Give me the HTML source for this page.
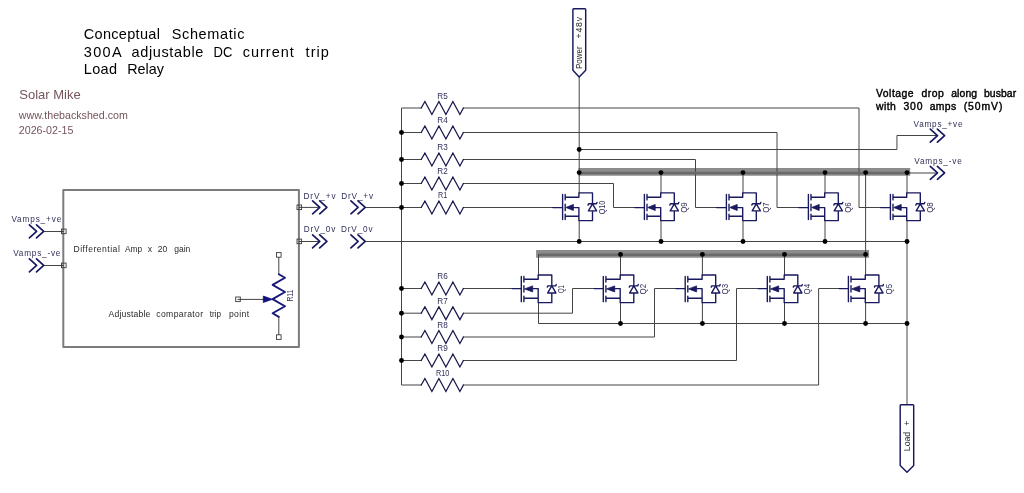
<!DOCTYPE html>
<html lang="en">
<head>
<meta charset="utf-8">
<title>Conceptual Schematic - 300A adjustable DC current trip Load Relay</title>
<style>
html,body{margin:0;padding:0;background:#fff;}
body{width:1024px;height:493px;overflow:hidden;}
svg{display:block;will-change:transform;}
text{font-family:"Liberation Sans", sans-serif;white-space:pre;}
.w{fill:none;stroke:#444444;stroke-width:1;stroke-linejoin:miter;stroke-linecap:square;}
.s{fill:none;stroke:#19195f;stroke-width:1.38;stroke-linejoin:round;stroke-linecap:round;}
.a{fill:#19195f;stroke:#19195f;stroke-width:0.8;stroke-linejoin:round;}
.c{fill:#fff;stroke:#19195f;stroke-width:1.45;stroke-linejoin:round;}
.j{fill:#000;}
.p{fill:none;stroke:#3a3a3a;stroke-width:0.9;}
.box{fill:none;stroke:#7c7c7c;stroke-width:2;stroke-linejoin:round;}
.bb{fill:none;stroke:#8c8c8c;stroke-width:7.7;stroke-linecap:butt;}
.bw{stroke:#6a6a6a;stroke-width:2.6;stroke-linecap:butt;}
.gl{stroke-width:1.15;}
.rz{stroke:#18184f;stroke-width:1.3;stroke-linejoin:miter;}
.pz{stroke:#16167a;stroke-width:1.85;}
.pa{fill:#10107e;stroke:#10107e;}
.ch{stroke-width:1.7;stroke-linejoin:round;}
.t{fill:#30305a;}
.tk{fill:#2a2a2a;}
.tt{fill:#000;}
.tb{fill:#000;stroke:#000;stroke-width:0.4;stroke-linejoin:round;}
.wm{fill:#74555b;}
</style>
</head>
<body>
<svg width="1024" height="493" viewBox="0 0 1024 493">
<rect width="1024" height="493" fill="#fff"/>
<path class="bb" d="M578.4 171.95 H910.2"/>
<path class="bb" d="M536.1 253.95 H869.1"/>
<rect class="box" x="63.3" y="189.9" width="235.6" height="157.0"/>
<path class="w" d="M43.8 231.5 L63.5 231.5"/>
<path class="w" d="M43.8 265.5 L63.5 265.5"/>
<path class="w" d="M299.3 207.4 L319.5 207.4"/>
<path class="w" d="M299.3 241.5 L319.5 241.5"/>
<path class="w" d="M278.8 257.6 L278.8 274.2"/>
<path class="w" d="M278.8 316.9 L278.8 334.4"/>
<path class="w" d="M238 299.4 L263.5 299.4"/>
<path class="w" d="M421.2 108 L401.5 108 L401.5 385 L421.2 385"/>
<path class="w" d="M401.5 132.5 L421.2 132.5"/>
<path class="w" d="M401.5 159.5 L421.2 159.5"/>
<path class="w" d="M401.5 183.5 L421.2 183.5"/>
<path class="w" d="M401.5 207.5 L421.2 207.5"/>
<path class="w" d="M401.5 288.5 L421.2 288.5"/>
<path class="w" d="M401.5 313.2 L421.2 313.2"/>
<path class="w" d="M401.5 337 L421.2 337"/>
<path class="w" d="M401.5 360.5 L421.2 360.5"/>
<path class="w" d="M365.5 207.5 L401.5 207.5"/>
<path class="w" d="M365.5 241.5 L907 241.5"/>
<path class="w" d="M463.4 207.5 L552.8 207.5"/>
<path class="w" d="M463.4 183.5 L613.5 183.5 L613.5 207.5 L634.6 207.5"/>
<path class="w" d="M463.4 159.5 L695.5 159.5 L695.5 207.5 L716.6 207.5"/>
<path class="w" d="M463.4 132.5 L777 132.5 L777 207.5 L798.6 207.5"/>
<path class="w" d="M463.4 108 L859 108 L859 207.5 L880.6 207.5"/>
<path class="w" d="M463.4 288.5 L512.1 288.5"/>
<path class="w" d="M463.4 313.2 L572.5 313.2 L572.5 288.5 L594.1 288.5"/>
<path class="w" d="M463.4 337 L654.5 337 L654.5 288.5 L676 288.5"/>
<path class="w" d="M463.4 360.5 L736.5 360.5 L736.5 288.5 L758.1 288.5"/>
<path class="w" d="M463.4 385 L818.6 385 L818.6 288.5 L839.2 288.5"/>
<path class="w" d="M579.2 77.2 L579.2 192.9"/>
<path class="w" d="M579.2 149.5 L896.95 149.5 L896.95 135.5 L937 135.5"/>
<path class="w bw" d="M579.2 173 L910.2 173"/>
<path class="w" d="M910.2 173 L937 173"/>
<path class="w bw" d="M538.5 254.8 L865.6 254.8"/>
<path class="w" d="M865.6 173 L865.6 274.95"/>
<path class="w" d="M661 173 L661 192.9"/>
<path class="w" d="M743 173 L743 192.9"/>
<path class="w" d="M825 173 L825 192.9"/>
<path class="w" d="M907 173 L907 192.9"/>
<path class="w" d="M579.2 220.6 L579.2 241.5"/>
<path class="w" d="M661 220.6 L661 241.5"/>
<path class="w" d="M743 220.6 L743 241.5"/>
<path class="w" d="M825 220.6 L825 241.5"/>
<path class="w" d="M538.5 254.8 L538.5 274.95"/>
<path class="w" d="M620.5 254.8 L620.5 274.95"/>
<path class="w" d="M702.4 254.8 L702.4 274.95"/>
<path class="w" d="M784.5 254.8 L784.5 274.95"/>
<path class="w" d="M620.5 302.65 L620.5 323.5"/>
<path class="w" d="M702.4 302.65 L702.4 323.5"/>
<path class="w" d="M784.5 302.65 L784.5 323.5"/>
<path class="w" d="M865.6 302.65 L865.6 323.5"/>
<path class="w" d="M538.5 302.65 L538.5 323.5 L907 323.5"/>
<path class="w" d="M907 220.6 L907 404.8"/>
<circle class="j" cx="401.5" cy="132.5" r="2.45"/>
<circle class="j" cx="401.5" cy="159.5" r="2.45"/>
<circle class="j" cx="401.5" cy="183.5" r="2.45"/>
<circle class="j" cx="401.5" cy="207.5" r="2.45"/>
<circle class="j" cx="401.5" cy="288.5" r="2.45"/>
<circle class="j" cx="401.5" cy="313.2" r="2.45"/>
<circle class="j" cx="401.5" cy="337" r="2.45"/>
<circle class="j" cx="401.5" cy="360.5" r="2.45"/>
<circle class="j" cx="579.2" cy="149.5" r="2.45"/>
<circle class="j" cx="579.2" cy="172.6" r="2.45"/>
<circle class="j" cx="661" cy="172.6" r="2.45"/>
<circle class="j" cx="743" cy="172.6" r="2.45"/>
<circle class="j" cx="825" cy="172.6" r="2.45"/>
<circle class="j" cx="907" cy="172.6" r="2.45"/>
<circle class="j" cx="865.6" cy="172.6" r="2.45"/>
<circle class="j" cx="579.2" cy="241.5" r="2.45"/>
<circle class="j" cx="661" cy="241.5" r="2.45"/>
<circle class="j" cx="743" cy="241.5" r="2.45"/>
<circle class="j" cx="825" cy="241.5" r="2.45"/>
<circle class="j" cx="907" cy="241.5" r="2.45"/>
<circle class="j" cx="620.5" cy="254.4" r="2.45"/>
<circle class="j" cx="702.4" cy="254.4" r="2.45"/>
<circle class="j" cx="784.5" cy="254.4" r="2.45"/>
<circle class="j" cx="865.6" cy="254.4" r="2.45"/>
<circle class="j" cx="620.5" cy="323.5" r="2.45"/>
<circle class="j" cx="702.4" cy="323.5" r="2.45"/>
<circle class="j" cx="784.5" cy="323.5" r="2.45"/>
<circle class="j" cx="865.6" cy="323.5" r="2.45"/>
<circle class="j" cx="907" cy="323.5" r="2.45"/>
<path class="s rz" d="M421.2 108 L424.9 101.55 L431.9 114.45 L438.9 101.55 L445.9 114.45 L452.9 101.55 L459.9 114.45 L463.4 108"/>
<text class="t" font-size="8.2" y="98.7"><tspan x="437.3" textLength="10.6" lengthAdjust="spacing">R5</tspan></text>
<path class="s rz" d="M421.2 132.5 L424.9 126.05 L431.9 138.95 L438.9 126.05 L445.9 138.95 L452.9 126.05 L459.9 138.95 L463.4 132.5"/>
<text class="t" font-size="8.2" y="123.2"><tspan x="437.3" textLength="10.6" lengthAdjust="spacing">R4</tspan></text>
<path class="s rz" d="M421.2 159.5 L424.9 153.05 L431.9 165.95 L438.9 153.05 L445.9 165.95 L452.9 153.05 L459.9 165.95 L463.4 159.5"/>
<text class="t" font-size="8.2" y="150.2"><tspan x="437.3" textLength="10.6" lengthAdjust="spacing">R3</tspan></text>
<path class="s rz" d="M421.2 183.5 L424.9 177.05 L431.9 189.95 L438.9 177.05 L445.9 189.95 L452.9 177.05 L459.9 189.95 L463.4 183.5"/>
<text class="t" font-size="8.2" y="174.2"><tspan x="437.3" textLength="10.6" lengthAdjust="spacing">R2</tspan></text>
<path class="s rz" d="M421.2 207.5 L424.9 201.05 L431.9 213.95 L438.9 201.05 L445.9 213.95 L452.9 201.05 L459.9 213.95 L463.4 207.5"/>
<text class="t" font-size="8.2" y="198.2"><tspan x="438" textLength="9.2" lengthAdjust="spacingAndGlyphs">R1</tspan></text>
<path class="s rz" d="M421.2 288.5 L424.9 282.05 L431.9 294.95 L438.9 282.05 L445.9 294.95 L452.9 282.05 L459.9 294.95 L463.4 288.5"/>
<text class="t" font-size="8.2" y="279.2"><tspan x="437.3" textLength="10.6" lengthAdjust="spacing">R6</tspan></text>
<path class="s rz" d="M421.2 313.2 L424.9 306.75 L431.9 319.65 L438.9 306.75 L445.9 319.65 L452.9 306.75 L459.9 319.65 L463.4 313.2"/>
<text class="t" font-size="8.2" y="303.9"><tspan x="437.3" textLength="10.6" lengthAdjust="spacing">R7</tspan></text>
<path class="s rz" d="M421.2 337 L424.9 330.55 L431.9 343.45 L438.9 330.55 L445.9 343.45 L452.9 330.55 L459.9 343.45 L463.4 337"/>
<text class="t" font-size="8.2" y="327.7"><tspan x="437.3" textLength="10.6" lengthAdjust="spacing">R8</tspan></text>
<path class="s rz" d="M421.2 360.5 L424.9 354.05 L431.9 366.95 L438.9 354.05 L445.9 366.95 L452.9 354.05 L459.9 366.95 L463.4 360.5"/>
<text class="t" font-size="8.2" y="351.2"><tspan x="437.3" textLength="10.6" lengthAdjust="spacing">R9</tspan></text>
<path class="s rz" d="M421.2 385 L424.9 378.55 L431.9 391.45 L438.9 378.55 L445.9 391.45 L452.9 378.55 L459.9 391.45 L463.4 385"/>
<text class="t" font-size="8.2" y="375.7"><tspan x="435.9" textLength="13.4" lengthAdjust="spacingAndGlyphs">R10</tspan></text>
<path class="s gl" d="M552.8 207.6 L562.6 207.6"/>
<path class="s" d="M562.6 194.4 L562.6 219.6 M565.2 194.4 L565.2 199.9 M565.2 204.28 L565.2 210.68 M565.2 214.1 L565.2 219.6 M565.2 197.2 L578.9 197.2 L578.9 192.9 L592.5 192.9 L592.5 203.8 M592.5 210.9 L592.5 220.6 L578.9 220.6 L578.9 207.6 L573.6 207.6 M565.2 216.2 L578.9 216.2 M588.4 210.9 L596.6 210.9 L592.5 203.8 L588.4 210.9 M588 205.1 L588.6 203.8 L596.4 203.8 L597 202.5"/>
<path class="a" d="M565.9 207.48 L573.4 204.48 L573.4 210.48 Z"/>
<text class="t" font-size="8.8" y="605.1" transform="rotate(-90)"><tspan x="-214.3" textLength="13.5" lengthAdjust="spacingAndGlyphs">Q10</tspan></text>
<path class="s gl" d="M634.6 207.6 L644.4 207.6"/>
<path class="s" d="M644.4 194.4 L644.4 219.6 M647 194.4 L647 199.9 M647 204.28 L647 210.68 M647 214.1 L647 219.6 M647 197.2 L660.7 197.2 L660.7 192.9 L674.3 192.9 L674.3 203.8 M674.3 210.9 L674.3 220.6 L660.7 220.6 L660.7 207.6 L655.4 207.6 M647 216.2 L660.7 216.2 M670.2 210.9 L678.4 210.9 L674.3 203.8 L670.2 210.9 M669.8 205.1 L670.4 203.8 L678.2 203.8 L678.8 202.5"/>
<path class="a" d="M647.7 207.48 L655.2 204.48 L655.2 210.48 Z"/>
<text class="t" font-size="8.8" y="686.9" transform="rotate(-90)"><tspan x="-212.85" textLength="10.6" lengthAdjust="spacingAndGlyphs">Q9</tspan></text>
<path class="s gl" d="M716.6 207.6 L726.4 207.6"/>
<path class="s" d="M726.4 194.4 L726.4 219.6 M729 194.4 L729 199.9 M729 204.28 L729 210.68 M729 214.1 L729 219.6 M729 197.2 L742.7 197.2 L742.7 192.9 L756.3 192.9 L756.3 203.8 M756.3 210.9 L756.3 220.6 L742.7 220.6 L742.7 207.6 L737.4 207.6 M729 216.2 L742.7 216.2 M752.2 210.9 L760.4 210.9 L756.3 203.8 L752.2 210.9 M751.8 205.1 L752.4 203.8 L760.2 203.8 L760.8 202.5"/>
<path class="a" d="M729.7 207.48 L737.2 204.48 L737.2 210.48 Z"/>
<text class="t" font-size="8.8" y="768.9" transform="rotate(-90)"><tspan x="-212.85" textLength="10.6" lengthAdjust="spacingAndGlyphs">Q7</tspan></text>
<path class="s gl" d="M798.6 207.6 L808.4 207.6"/>
<path class="s" d="M808.4 194.4 L808.4 219.6 M811 194.4 L811 199.9 M811 204.28 L811 210.68 M811 214.1 L811 219.6 M811 197.2 L824.7 197.2 L824.7 192.9 L838.3 192.9 L838.3 203.8 M838.3 210.9 L838.3 220.6 L824.7 220.6 L824.7 207.6 L819.4 207.6 M811 216.2 L824.7 216.2 M834.2 210.9 L842.4 210.9 L838.3 203.8 L834.2 210.9 M833.8 205.1 L834.4 203.8 L842.2 203.8 L842.8 202.5"/>
<path class="a" d="M811.7 207.48 L819.2 204.48 L819.2 210.48 Z"/>
<text class="t" font-size="8.8" y="850.9" transform="rotate(-90)"><tspan x="-212.85" textLength="10.6" lengthAdjust="spacingAndGlyphs">Q6</tspan></text>
<path class="s gl" d="M880.6 207.6 L890.4 207.6"/>
<path class="s" d="M890.4 194.4 L890.4 219.6 M893 194.4 L893 199.9 M893 204.28 L893 210.68 M893 214.1 L893 219.6 M893 197.2 L906.7 197.2 L906.7 192.9 L920.3 192.9 L920.3 203.8 M920.3 210.9 L920.3 220.6 L906.7 220.6 L906.7 207.6 L901.4 207.6 M893 216.2 L906.7 216.2 M916.2 210.9 L924.4 210.9 L920.3 203.8 L916.2 210.9 M915.8 205.1 L916.4 203.8 L924.2 203.8 L924.8 202.5"/>
<path class="a" d="M893.7 207.48 L901.2 204.48 L901.2 210.48 Z"/>
<text class="t" font-size="8.8" y="932.9" transform="rotate(-90)"><tspan x="-212.85" textLength="10.6" lengthAdjust="spacingAndGlyphs">Q8</tspan></text>
<path class="s gl" d="M512.1 288.6 L521.3 288.6"/>
<path class="s" d="M521.3 276.45 L521.3 301.65 M523.9 276.45 L523.9 281.95 M523.9 285.7 L523.9 292.1 M523.9 296.15 L523.9 301.65 M523.9 279.25 L538.2 279.25 L538.2 274.95 L551.8 274.95 L551.8 285.85 M551.8 292.95 L551.8 302.65 L538.2 302.65 L538.2 288.6 L532.9 288.6 M523.9 298.25 L538.2 298.25 M547.7 292.95 L555.9 292.95 L551.8 285.85 L547.7 292.95 M547.3 287.15 L547.9 285.85 L555.7 285.85 L556.3 284.55"/>
<path class="a" d="M524.6 288.9 L532.7 285.9 L532.7 291.9 Z"/>
<text class="t" font-size="8.8" y="564.4" transform="rotate(-90)"><tspan x="-293.07" textLength="8" lengthAdjust="spacingAndGlyphs">Q1</tspan></text>
<path class="s gl" d="M594.1 288.6 L603.3 288.6"/>
<path class="s" d="M603.3 276.45 L603.3 301.65 M605.9 276.45 L605.9 281.95 M605.9 285.7 L605.9 292.1 M605.9 296.15 L605.9 301.65 M605.9 279.25 L620.2 279.25 L620.2 274.95 L633.8 274.95 L633.8 285.85 M633.8 292.95 L633.8 302.65 L620.2 302.65 L620.2 288.6 L614.9 288.6 M605.9 298.25 L620.2 298.25 M629.7 292.95 L637.9 292.95 L633.8 285.85 L629.7 292.95 M629.3 287.15 L629.9 285.85 L637.7 285.85 L638.3 284.55"/>
<path class="a" d="M606.6 288.9 L614.7 285.9 L614.7 291.9 Z"/>
<text class="t" font-size="8.8" y="646.4" transform="rotate(-90)"><tspan x="-294.38" textLength="10.6" lengthAdjust="spacingAndGlyphs">Q2</tspan></text>
<path class="s gl" d="M676 288.6 L685.2 288.6"/>
<path class="s" d="M685.2 276.45 L685.2 301.65 M687.8 276.45 L687.8 281.95 M687.8 285.7 L687.8 292.1 M687.8 296.15 L687.8 301.65 M687.8 279.25 L702.1 279.25 L702.1 274.95 L715.7 274.95 L715.7 285.85 M715.7 292.95 L715.7 302.65 L702.1 302.65 L702.1 288.6 L696.8 288.6 M687.8 298.25 L702.1 298.25 M711.6 292.95 L719.8 292.95 L715.7 285.85 L711.6 292.95 M711.2 287.15 L711.8 285.85 L719.6 285.85 L720.2 284.55"/>
<path class="a" d="M688.5 288.9 L696.6 285.9 L696.6 291.9 Z"/>
<text class="t" font-size="8.8" y="728.3" transform="rotate(-90)"><tspan x="-294.38" textLength="10.6" lengthAdjust="spacingAndGlyphs">Q3</tspan></text>
<path class="s gl" d="M758.1 288.6 L767.3 288.6"/>
<path class="s" d="M767.3 276.45 L767.3 301.65 M769.9 276.45 L769.9 281.95 M769.9 285.7 L769.9 292.1 M769.9 296.15 L769.9 301.65 M769.9 279.25 L784.2 279.25 L784.2 274.95 L797.8 274.95 L797.8 285.85 M797.8 292.95 L797.8 302.65 L784.2 302.65 L784.2 288.6 L778.9 288.6 M769.9 298.25 L784.2 298.25 M793.7 292.95 L801.9 292.95 L797.8 285.85 L793.7 292.95 M793.3 287.15 L793.9 285.85 L801.7 285.85 L802.3 284.55"/>
<path class="a" d="M770.6 288.9 L778.7 285.9 L778.7 291.9 Z"/>
<text class="t" font-size="8.8" y="810.4" transform="rotate(-90)"><tspan x="-294.38" textLength="10.6" lengthAdjust="spacingAndGlyphs">Q4</tspan></text>
<path class="s gl" d="M839.2 288.6 L848.4 288.6"/>
<path class="s" d="M848.4 276.45 L848.4 301.65 M851 276.45 L851 281.95 M851 285.7 L851 292.1 M851 296.15 L851 301.65 M851 279.25 L865.3 279.25 L865.3 274.95 L878.9 274.95 L878.9 285.85 M878.9 292.95 L878.9 302.65 L865.3 302.65 L865.3 288.6 L860 288.6 M851 298.25 L865.3 298.25 M874.8 292.95 L883 292.95 L878.9 285.85 L874.8 292.95 M874.4 287.15 L875 285.85 L882.8 285.85 L883.4 284.55"/>
<path class="a" d="M851.7 288.9 L859.8 285.9 L859.8 291.9 Z"/>
<text class="t" font-size="8.8" y="891.5" transform="rotate(-90)"><tspan x="-294.38" textLength="10.6" lengthAdjust="spacingAndGlyphs">Q5</tspan></text>
<path class="s ch" d="M29.4 224.9 L36.6 231.4 L29.4 237.9"/>
<path class="s ch" d="M36.5 224.9 L43.7 231.4 L36.5 237.9"/>
<path class="s ch" d="M29.4 258.9 L36.6 265.4 L29.4 271.9"/>
<path class="s ch" d="M36.5 258.9 L43.7 265.4 L36.5 271.9"/>
<path class="s ch" d="M312.6 200.8 L319.8 207.3 L312.6 213.8"/>
<path class="s ch" d="M319.7 200.8 L326.9 207.3 L319.7 213.8"/>
<path class="s ch" d="M312.6 234.9 L319.8 241.4 L312.6 247.9"/>
<path class="s ch" d="M319.7 234.9 L326.9 241.4 L319.7 247.9"/>
<path class="s ch" d="M350.9 200.8 L358.1 207.3 L350.9 213.8"/>
<path class="s ch" d="M358 200.8 L365.2 207.3 L358 213.8"/>
<path class="s ch" d="M350.9 234.9 L358.1 241.4 L350.9 247.9"/>
<path class="s ch" d="M358 234.9 L365.2 241.4 L358 247.9"/>
<path class="s ch" d="M930.3 129.1 L937.5 135.6 L930.3 142.1"/>
<path class="s ch" d="M937.4 129.1 L944.6 135.6 L937.4 142.1"/>
<path class="s ch" d="M930.3 166.3 L937.5 172.8 L930.3 179.3"/>
<path class="s ch" d="M937.4 166.3 L944.6 172.8 L937.4 179.3"/>
<rect class="p" x="61.5" y="229.1" width="4.6" height="4.6"/>
<rect class="p" x="61.5" y="263.1" width="4.6" height="4.6"/>
<rect class="p" x="297" y="205" width="4.6" height="4.6"/>
<rect class="p" x="297" y="239.1" width="4.6" height="4.6"/>
<rect class="p" x="276.5" y="252.6" width="4.6" height="4.6"/>
<rect class="p" x="276.5" y="334.8" width="4.6" height="4.6"/>
<rect class="p" x="235.7" y="297" width="4.6" height="4.6"/>
<path class="s pz" d="M278.8 274.2 L285 277.8 L272.6 284.9 L285 292 L272.6 299.1 L285 306.2 L272.6 313.3 L278.8 316.9"/>
<path class="a pa" d="M263.3 296.1 L272.4 299.3 L263.3 302.5 Z"/>
<text class="t" font-size="8.8" y="292.9" transform="rotate(-90)"><tspan x="-301.6" textLength="12" lengthAdjust="spacingAndGlyphs">R11</tspan></text>
<path class="c" d="M573.7 8.8 Q572.9 8.8 572.9 9.6 V70.3 L579.2 77 L585.7 70.3 V9.6 Q585.7 8.8 584.9 8.8 Z"/>
<path class="c" d="M901 404.8 Q900.2 404.8 900.2 405.6 V465.6 L907 472.3 L913.7 465.6 V405.6 Q913.7 404.8 912.9 404.8 Z"/>
<text class="tk" font-size="8.7" y="582.4" transform="rotate(-90)"><tspan x="-69" textLength="22.7" lengthAdjust="spacingAndGlyphs">Power</tspan> <tspan x="-38.4" textLength="21.4" lengthAdjust="spacing">+48v</tspan></text>
<text class="tk" font-size="8.7" y="910.3" transform="rotate(-90)"><tspan x="-451.2" textLength="19.4" lengthAdjust="spacing">Load</tspan> <tspan x="-425.74">+</tspan></text>
<text class="t" font-size="8.2" y="222.3"><tspan x="11.4" textLength="49.8" lengthAdjust="spacing">Vamps_+ve</tspan></text>
<text class="t" font-size="8.2" y="256.2"><tspan x="13.2" textLength="47.2" lengthAdjust="spacing">Vamps_-ve</tspan></text>
<text class="t" font-size="8.2" y="198.6"><tspan x="303.5" textLength="32.1" lengthAdjust="spacing">DrV_+v</tspan></text>
<text class="t" font-size="8.2" y="232"><tspan x="303.7" textLength="31.6" lengthAdjust="spacing">DrV_0v</tspan></text>
<text class="t" font-size="8.2" y="198.6"><tspan x="341.3" textLength="31.7" lengthAdjust="spacing">DrV_+v</tspan></text>
<text class="t" font-size="8.2" y="232"><tspan x="341" textLength="31.6" lengthAdjust="spacing">DrV_0v</tspan></text>
<text class="t" font-size="8.2" y="126.9"><tspan x="913.6" textLength="48.9" lengthAdjust="spacing">Vamps_+ve</tspan></text>
<text class="t" font-size="8.2" y="164.4"><tspan x="914.2" textLength="47.6" lengthAdjust="spacing">Vamps_-ve</tspan></text>
<text class="tk" font-size="8.6" y="252.4"><tspan x="73.5" textLength="46.3" lengthAdjust="spacing">Differential</tspan> <tspan x="125.1" textLength="17" lengthAdjust="spacingAndGlyphs">Amp</tspan> <tspan x="147.65">x</tspan> <tspan x="157.8" textLength="9.5" lengthAdjust="spacingAndGlyphs">20</tspan> <tspan x="174.2" textLength="16.1" lengthAdjust="spacingAndGlyphs">gain</tspan></text>
<text class="tk" font-size="8.6" y="317.4"><tspan x="108.6" textLength="41.7" lengthAdjust="spacing">Adjustable</tspan> <tspan x="156.3" textLength="46.8" lengthAdjust="spacing">comparator</tspan> <tspan x="209.8" textLength="11.3" lengthAdjust="spacingAndGlyphs">trip</tspan> <tspan x="228.9" textLength="20.3" lengthAdjust="spacing">point</tspan></text>
<text class="tt" font-size="14.5" y="39"><tspan x="83.8" textLength="76.1" lengthAdjust="spacing">Conceptual</tspan> <tspan x="171.8" textLength="72.6" lengthAdjust="spacing">Schematic</tspan></text>
<text class="tt" font-size="14.5" y="56.7"><tspan x="83.8" textLength="37.1" lengthAdjust="spacing">300A</tspan> <tspan x="131.6" textLength="71.7" lengthAdjust="spacing">adjustable</tspan> <tspan x="213.6" textLength="18.8" lengthAdjust="spacingAndGlyphs">DC</tspan> <tspan x="242.7" textLength="51.2" lengthAdjust="spacing">current</tspan> <tspan x="305.6" textLength="23.2" lengthAdjust="spacing">trip</tspan></text>
<text class="tt" font-size="14.5" y="74.3"><tspan x="83.8" textLength="33.3" lengthAdjust="spacing">Load</tspan> <tspan x="127.2" textLength="36.8" lengthAdjust="spacingAndGlyphs">Relay</tspan></text>
<text class="tb" font-size="10.4" y="97.4"><tspan x="876" textLength="37.6" lengthAdjust="spacing">Voltage</tspan> <tspan x="921.4" textLength="22.3" lengthAdjust="spacing">drop</tspan> <tspan x="951.2" textLength="25.9" lengthAdjust="spacing">along</tspan> <tspan x="983.9" textLength="32.3" lengthAdjust="spacing">busbar</tspan></text>
<text class="tb" font-size="10.4" y="109.8"><tspan x="876" textLength="19.9" lengthAdjust="spacing">with</tspan> <tspan x="903.4" textLength="19.2" lengthAdjust="spacing">300</tspan> <tspan x="929.7" textLength="26.5" lengthAdjust="spacing">amps</tspan> <tspan x="963.7" textLength="38.7" lengthAdjust="spacing">(50mV)</tspan></text>
<text class="wm" font-size="13" x="19.3" y="98.7">Solar Mike</text>
<text class="wm" font-size="10.67" x="18.8" y="118.9">www.thebackshed.com</text>
<text class="wm" font-size="10.67" x="18.8" y="133.8">2026-02-15</text>
</svg>
</body>
</html>
